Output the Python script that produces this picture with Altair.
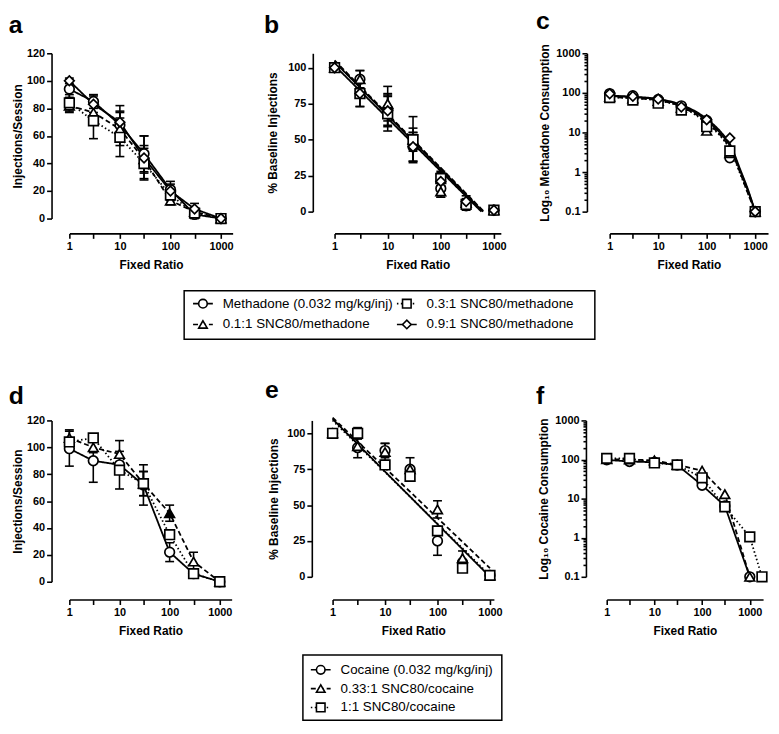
import altair as alt
import pandas as pd

FONT = "Liberation Sans"
BLACK = "#000000"

FR = [1, 3, 10, 30, 100, 300, 1000]
X_TICKS = [1, 3, 10, 30, 100, 300, 1000]
LOG_TICKS = [m * 10 ** e for e in range(-1, 3) for m in range(1, 10)] + [1000]

# ---------------- methadone (top row) ----------------
M_NAMES = ["Methadone (0.032 mg/kg/inj)", "0.1:1 SNC80/methadone",
           "0.3:1 SNC80/methadone", "0.9:1 SNC80/methadone"]
M_SHAPES = ["circle", "triangle-up", "square", "diamond"]
M_DASHES = [[1, 0], [5, 3], [1.5, 2.5], [1, 0]]

# a: injections / session
A_METH = [94, 85, 68, 47, 21, 3, 0]
A_METH_SEM = [6, 5, 10, 13, 6, 3, 0]
A_01 = [82, 77, 65, 43, 13, 5, 0]
A_01_SEM = [5, 9, 12, 10, 3, 2, 0]
A_03 = [84, 71, 59, 40, 17, 4, 0]
A_03_SEM = [6, 13, 14, 11, 4, 2, 0]
A_09 = [100, 83, 70, 44, 20, 7, 0]
A_09_SEM = [2, 6, 12, 16, 5, 4, 0]

# b: % baseline injections
B_METH = [100, 92, 71, 45, 16, 4, 1]
B_METH_SEM = [0, 6, 11, 10, 6, 3, 0]
B_01 = [100, 92, 75, 50, 14, 6, 1]
B_01_SEM = [0, 6, 12, 8, 4, 3, 0]
B_03 = [100, 82, 68, 50, 23, 5, 1]
B_03_SEM = [0, 9, 12, 16, 5, 3, 0]
B_09 = [100, 82, 70, 45, 21, 7, 1]
B_09_SEM = [0, 9, 11, 10, 6, 4, 0]
B_FIT_FR = [[1, 620], [1, 650], [1, 640], [1, 580]]
B_FIT_Y = [[104, 0], [105, 0], [104.5, 0], [101.5, 0]]

# c: methadone consumption (log)
C_METH = [96, 85, 68, 47, 20, 2.3, 0.1]
C_01 = [80, 72, 62, 42, 11, 3.0, 0.1]
C_03 = [76, 66, 55, 37, 14, 3.4, 0.1]
C_09 = [95, 82, 70, 44, 21, 7.2, 0.1]
C_FIT_FR = [1, 3, 10, 30, 100, 200, 300, 500, 700, 1000]
C_FIT_METH = [83, 78, 68, 48, 20, 9.0, 4.6, 1.0, 0.35, 0.1]
C_FIT_01 = [78, 74, 65, 45, 18, 8.0, 4.0, 0.9, 0.3, 0.1]
C_FIT_03 = [77, 73, 64, 44, 17, 7.6, 3.8, 0.85, 0.3, 0.1]
C_FIT_09 = [85, 80, 70, 50, 22, 10, 5.2, 1.1, 0.38, 0.1]

# ---------------- cocaine (bottom row) ----------------
K_NAMES = ["Cocaine (0.032 mg/kg/inj)", "0.33:1 SNC80/cocaine", "1:1 SNC80/cocaine"]
K_SHAPES = ["circle", "triangle-up", "square"]
K_DASHES = [[1, 0], [5, 3], [1.5, 2.5]]

D_COC = [99, 90, 87, 72, 22, 6, 0]
D_COC_SEM = [13, 16, 0, 15, 7, 0, 0]
D_033 = [107, 100, 95, 73, 51, 15, 0]
D_033_SEM = [6, 4, 10, 9, 6, 7, 0]
D_033_FILLED = [False, False, False, False, True, False, False]
D_11 = [104, 107, 83, 73, 35, 6, 0]
D_11_SEM = [3, 2, 14, 9, 0, 0, 0]

E_COC = [100, 90, 88, 75, 25, 10, 1]
E_COC_SEM = [0, 0, 5, 0, 10, 0, 0]
E_033 = [100, 91, 87, 75, 47, 13, 1]
E_033_SEM = [0, 8, 6, 8, 6, 5, 0]
E_11 = [100, 100, 78, 70, 32, 6, 1]
E_11_SEM = [0, 4, 0, 0, 0, 0, 0]
E_FIT_FR = [[1, 1000], [1, 1000], [1, 1000]]
E_FIT_Y = [[110, 0], [111, 6], [109, 1]]

F_COC = [98, 89, 85, 72, 22, 6.5, 0.1]
F_033 = [102, 100, 95, 73, 52, 13, 0.1]
F_11_FR = [1, 3, 10, 30, 100, 300, 1000, 1800]
F_11 = [107, 107, 82, 73, 34, 6.2, 1.05, 0.1]

LINE_W = 1.8
MARK_W = 1.7


def points_df(names, values, sems=None, frs=None, filled=None):
    rows = []
    for i, name in enumerate(names):
        xs = frs[i] if (frs is not None and frs[i] is not None) else FR
        for j, v in enumerate(values[i]):
            s = sems[i][j] if sems is not None else 0
            f = filled[i][j] if (filled is not None and filled[i] is not None) else False
            rows.append({"series": name, "fr": xs[j], "y": v, "lo": v - s,
                         "hi": v + s, "sem": s, "fill": BLACK if f else "white"})
    return pd.DataFrame(rows)


def lines_df(names, frs, values):
    rows = []
    for i, name in enumerate(names):
        for f, v in zip(frs[i], values[i]):
            rows.append({"series": name, "fr": f, "y": v})
    return pd.DataFrame(rows)


def panel(letter, pts, lines, names, shapes, dashes, *, xmax, ydom, ylog, yvals,
          ytitle, w, h, yoff, xoff, tdx, toff, ytpad, interp="linear"):
    xs = alt.Scale(type="log", domain=[1, xmax], nice=False)
    xaxis = alt.Axis(values=X_TICKS, title="Fixed Ratio", offset=xoff,
                     labelExpr="indexof([1,10,100,1000], datum.value) >= 0 ? format(datum.value, 'd') : ''",
                     labelFlush=False, labelOverlap=False, titlePadding=8)
    if ylog:
        ys = alt.Scale(type="log", domain=ydom, nice=False)
        test = "indexof([0.1,1,10,100,1000], datum.value) >= 0"
        yaxis = alt.Axis(values=LOG_TICKS, title=ytitle, offset=yoff, titlePadding=ytpad,
                         labelExpr=test + " ? format(datum.value, '~g') : ''",
                         labelOverlap=False,
                         tickSize={"condition": {"test": test, "value": 5}, "value": 3})
    else:
        ys = alt.Scale(domain=ydom, nice=False, zero=False)
        yaxis = alt.Axis(values=yvals, title=ytitle, offset=yoff, titlePadding=ytpad,
                         labelOverlap=False)
    X = alt.X("fr:Q", scale=xs, axis=xaxis)
    Y = alt.Y("y:Q", scale=ys, axis=yaxis)
    dash = alt.StrokeDash("series:N", scale=alt.Scale(domain=names, range=dashes), legend=None)
    shape = alt.Shape("series:N", scale=alt.Scale(domain=names, range=shapes), legend=None)

    layers = [
        alt.Chart(lines).mark_line(color=BLACK, strokeWidth=LINE_W, interpolate=interp)
        .encode(x=X, y=Y, strokeDash=dash, detail="series:N")
    ]
    eb = pts[pts["sem"] > 0]
    if len(eb):
        layers.append(
            alt.Chart(eb).mark_rule(color=BLACK, strokeWidth=1.6)
            .encode(x=X, y=alt.Y("lo:Q", scale=ys, axis=yaxis), y2="hi:Q"))
        caps = pd.concat([eb.assign(cap=eb["lo"]), eb.assign(cap=eb["hi"])])
        layers.append(
            alt.Chart(caps).mark_tick(orient="horizontal", size=9, thickness=1.6,
                                      color=BLACK, opacity=1)
            .encode(x=X, y=alt.Y("cap:Q", scale=ys, axis=yaxis)))
    layers.append(
        alt.Chart(pts).mark_point(filled=True, stroke=BLACK, strokeWidth=MARK_W, size=95, opacity=1)
        .encode(x=X, y=Y, shape=shape, fill=alt.Fill("fill:N", scale=None)))
    return alt.layer(*layers).properties(
        width=w, height=h,
        title=alt.TitleParams(letter, anchor="start", frame="bounds", fontSize=25,
                              font=FONT, fontWeight="bold", color=BLACK, dx=tdx, offset=toff))


def legend_chart(names, shapes, dashes, cols, rows, w, h, xdom, ydom):
    df = pd.DataFrame({"series": names, "col": cols, "row": rows})
    X = alt.X("col:Q", scale=alt.Scale(domain=xdom, nice=False, zero=False), axis=None)
    Y = alt.Y("row:Q", scale=alt.Scale(domain=ydom, nice=False, zero=False, reverse=True), axis=None)
    dash = alt.StrokeDash("series:N", scale=alt.Scale(domain=names, range=dashes), legend=None)
    shape = alt.Shape("series:N", scale=alt.Scale(domain=names, range=shapes), legend=None)
    seg = alt.Chart(df).mark_rule(color=BLACK, strokeWidth=1.6, xOffset=-10, x2Offset=10).encode(
        x=X, x2="col:Q", y=Y, strokeDash=dash)
    sym = alt.Chart(df).mark_point(filled=True, fill="white", stroke=BLACK, strokeWidth=1.6,
                                   size=75, opacity=1).encode(x=X, y=Y, shape=shape)
    txt = alt.Chart(df).mark_text(align="left", baseline="middle", dx=20, font=FONT,
                                  fontSize=13.5, color=BLACK).encode(x=X, y=Y, text="series:N")
    return alt.layer(seg, sym, txt).properties(
        width=w, height=h, view=alt.ViewBackground(stroke=BLACK, strokeWidth=1.5))


def spacer(w):
    return alt.Chart(pd.DataFrame({"v": [0]})).mark_point(size=0, opacity=0).encode(
        x=alt.X("v:Q", axis=None), y=alt.Y("v:Q", axis=None)).properties(width=w, height=1)


# ---- build panels ----
pa = panel("a", points_df(M_NAMES, [A_METH, A_01, A_03, A_09], [A_METH_SEM, A_01_SEM, A_03_SEM, A_09_SEM]),
           lines_df(M_NAMES, [FR] * 4, [A_METH, A_01, A_03, A_09]), M_NAMES, M_SHAPES, M_DASHES,
           xmax=1700, ydom=[0, 120], ylog=False, yvals=[0, 20, 40, 60, 80, 100, 120],
           ytitle="Injections/Session", w=165, h=167, yoff=18, xoff=15, tdx=-3, toff=10, ytpad=2)
pb = panel("b", points_df(M_NAMES, [B_METH, B_01, B_03, B_09], [B_METH_SEM, B_01_SEM, B_03_SEM, B_09_SEM]),
           lines_df(M_NAMES, B_FIT_FR, B_FIT_Y), M_NAMES, M_SHAPES, M_DASHES,
           xmax=1350, ydom=[0, 110], ylog=False, yvals=[0, 25, 50, 75, 100],
           ytitle="% Baseline Injections", w=168, h=160, yoff=22, xoff=22, tdx=-3, toff=16, ytpad=8)
pc = panel("c", points_df(M_NAMES, [C_METH, C_01, C_03, C_09]),
           lines_df(M_NAMES, [C_FIT_FR] * 4, [C_FIT_METH, C_FIT_01, C_FIT_03, C_FIT_09]),
           M_NAMES, M_SHAPES, M_DASHES,
           xmax=1840, ydom=[0.1, 1000], ylog=True, yvals=None,
           ytitle="Log\u2081\u2080 Methadone Consumption", w=160, h=160, yoff=23, xoff=22,
           tdx=-3, toff=10, ytpad=4, interp="monotone")

pdd = panel("d", points_df(K_NAMES, [D_COC, D_033, D_11], [D_COC_SEM, D_033_SEM, D_11_SEM],
                           filled=[None, D_033_FILLED, None]),
            lines_df(K_NAMES, [FR] * 3, [D_COC, D_033, D_11]), K_NAMES, K_SHAPES, K_DASHES,
            xmax=1725, ydom=[0, 120], ylog=False, yvals=[0, 20, 40, 60, 80, 100, 120],
            ytitle="Injections/Session", w=164, h=163, yoff=18, xoff=18, tdx=-3, toff=6, ytpad=2)
pe = panel("e", points_df(K_NAMES, [E_COC, E_033, E_11], [E_COC_SEM, E_033_SEM, E_11_SEM]),
           lines_df(K_NAMES, E_FIT_FR, E_FIT_Y), K_NAMES, K_SHAPES, K_DASHES,
           xmax=1190, ydom=[0, 109], ylog=False, yvals=[0, 25, 50, 75, 100],
           ytitle="% Baseline Injections", w=163, h=158, yoff=21, xoff=23, tdx=-3, toff=11, ytpad=6)
pf = panel("f", points_df(K_NAMES, [F_COC, F_033, F_11], frs=[None, None, F_11_FR]),
           lines_df(K_NAMES, [FR, FR, F_11_FR], [F_COC, F_033, F_11]), K_NAMES, K_SHAPES, K_DASHES,
           xmax=1900, ydom=[0.1, 1000], ylog=True, yvals=None,
           ytitle="Log\u2081\u2080 Cocaine Consumption", w=158, h=158, yoff=21, xoff=23,
           tdx=-2, toff=6, ytpad=4)

leg1 = legend_chart([M_NAMES[0], M_NAMES[2], M_NAMES[1], M_NAMES[3]],
                    [M_SHAPES[0], M_SHAPES[2], M_SHAPES[1], M_SHAPES[3]],
                    [M_DASHES[0], M_DASHES[2], M_DASHES[1], M_DASHES[3]],
                    [0, 1, 0, 1], [0, 0, 1, 1], 415, 49, [-0.0922, 1.9223], [-0.619, 1.714])
leg2 = legend_chart(K_NAMES, K_SHAPES, K_DASHES, [0, 0, 0], [0, 1, 2], 201, 66,
                    [-0.0896, 0.9104], [-0.789, 2.684])

row1 = alt.hconcat(alt.hconcat(pa, pb, spacing=30), pc, spacing=29)
row2 = alt.hconcat(alt.hconcat(pdd, pe, spacing=32), pf, spacing=33)
lrow1 = alt.hconcat(spacer(115), leg1, spacing=0)
lrow2 = alt.hconcat(spacer(235), leg2, spacing=0)

chart = alt.vconcat(
    alt.vconcat(row1, lrow1, spacing=20),
    alt.vconcat(row2, lrow2, spacing=18),
    spacing=38,
).properties(
    padding={"left": 0, "top": -3, "right": 0, "bottom": 0}
).configure_view(stroke=None).configure_axis(
    labelFont=FONT, labelFontWeight="bold", labelFontSize=11, labelColor=BLACK,
    titleFont=FONT, titleFontWeight="bold", titleFontSize=12, titleColor=BLACK,
    domainColor=BLACK, domainWidth=1.6, tickColor=BLACK, tickWidth=1.6, tickSize=5,
    labelPadding=2, grid=False,
)

chart.save("out.html", embed_options={"renderer": "svg", "actions": False})
